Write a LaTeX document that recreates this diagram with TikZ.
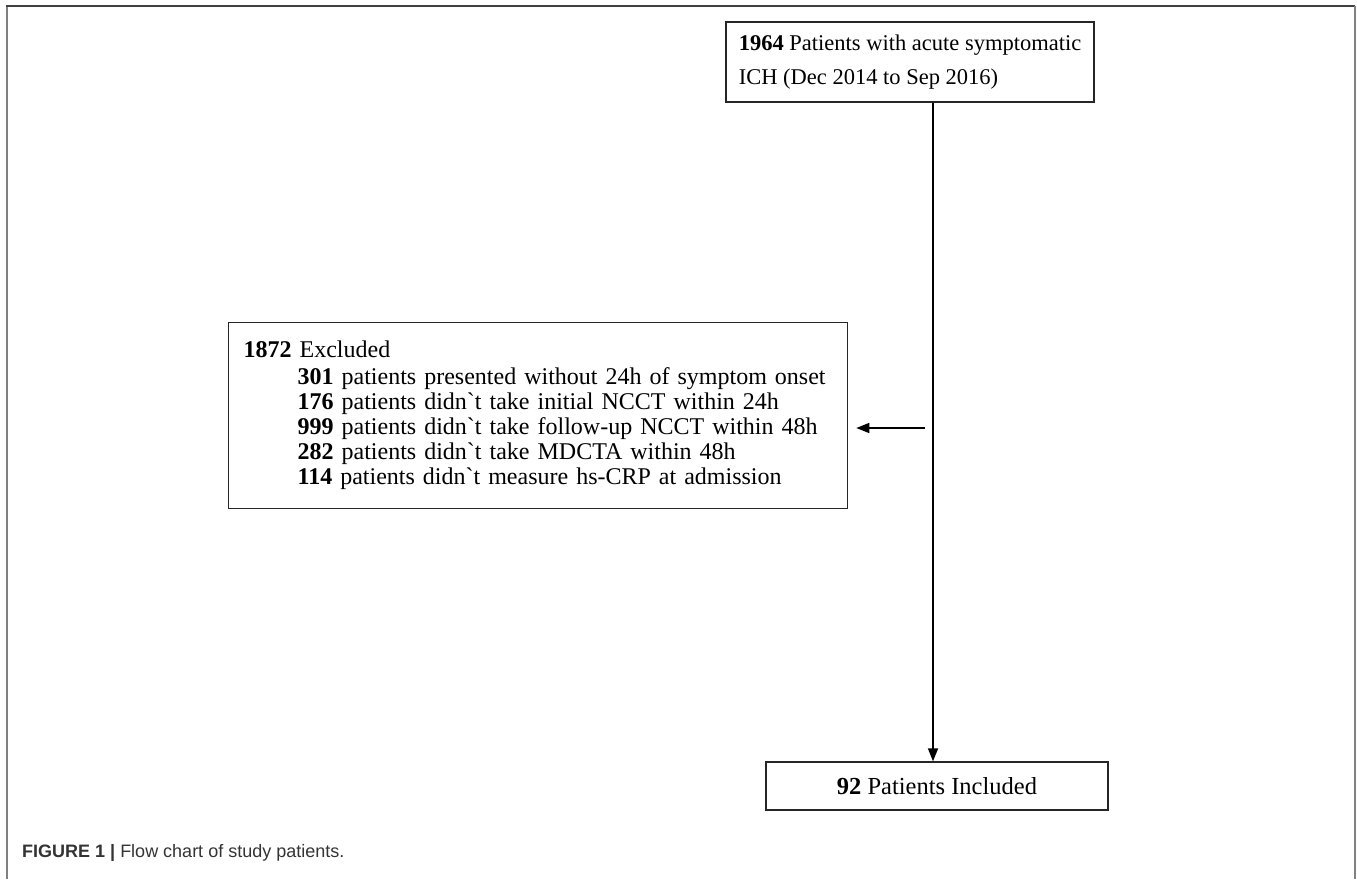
\documentclass[tikz,border=0pt]{standalone}
\usepackage{fontspec}
\setmainfont{Liberation Serif}
\newfontfamily\capfont{Liberation Sans}
\usetikzlibrary{arrows.meta}
\newcommand{\bq}{\textasciigrave}
\begin{document}
\begin{tikzpicture}[x=1pt,y=-1pt]
\useasboundingbox (0,0) rectangle (1357,879);
\tikzset{
 flowbox/.style={draw=black!85, line width=1.3pt, rectangle, inner sep=0pt, font=\fontsize{24}{25}\selectfont},
 conn/.style={line width=1.5pt, -{Triangle[length=13pt,width=10pt]}},
 frameline/.style={draw=black!50, line width=2pt},
 topline/.style={draw=black!75, line width=1.2pt}
}
% outer frame
\draw[frameline] (7,879) -- (7,6);
\draw[topline] (6,6) -- (1355,6);
\draw[frameline] (1355,6) -- (1355,879);

\node[flowbox, font=\fontsize{22.5}{34}\selectfont, minimum width=368pt, minimum height=80pt, align=left] (top) at (910,62)
 {\textbf{1964} Patients with acute symptomatic\\ICH (Dec 2014 to Sep 2016)};

\node[flowbox, minimum width=619pt, minimum height=186pt, anchor=north west, text width=589pt, align=left] (excl) at (228,322)
 {\textbf{1872} Excluded\\[2pt]
 \hspace*{54pt}\textbf{301} patients presented without 24h of symptom onset\\
 \hspace*{54pt}\textbf{176} patients didn\bq t take initial NCCT within 24h\\
 \hspace*{54pt}\textbf{999} patients didn\bq t take follow-up NCCT within 48h\\
 \hspace*{54pt}\textbf{282} patients didn\bq t take MDCTA within 48h\\
 \hspace*{54pt}\textbf{114} patients didn\bq t measure hs-CRP at admission};

\node[flowbox, font=\fontsize{24.5}{28}\selectfont, minimum width=342pt, minimum height=48pt] (bot) at (937,786)
 {\textbf{92} Patients Included};

\coordinate (vx) at (933,0);
\coordinate (hs) at (925,428);
\draw[conn] (vx |- top.south) -- (vx |- bot.north);
\draw[conn, shorten >=8pt] (hs) -- (hs -| excl.east);

\node[anchor=base west, inner sep=0pt, text=black!80, font=\capfont\fontsize{18}{21}\selectfont] (cap) at (22,857)
 {\textbf{FIGURE 1 |} Flow chart of study patients.};
\end{tikzpicture}
\end{document}
